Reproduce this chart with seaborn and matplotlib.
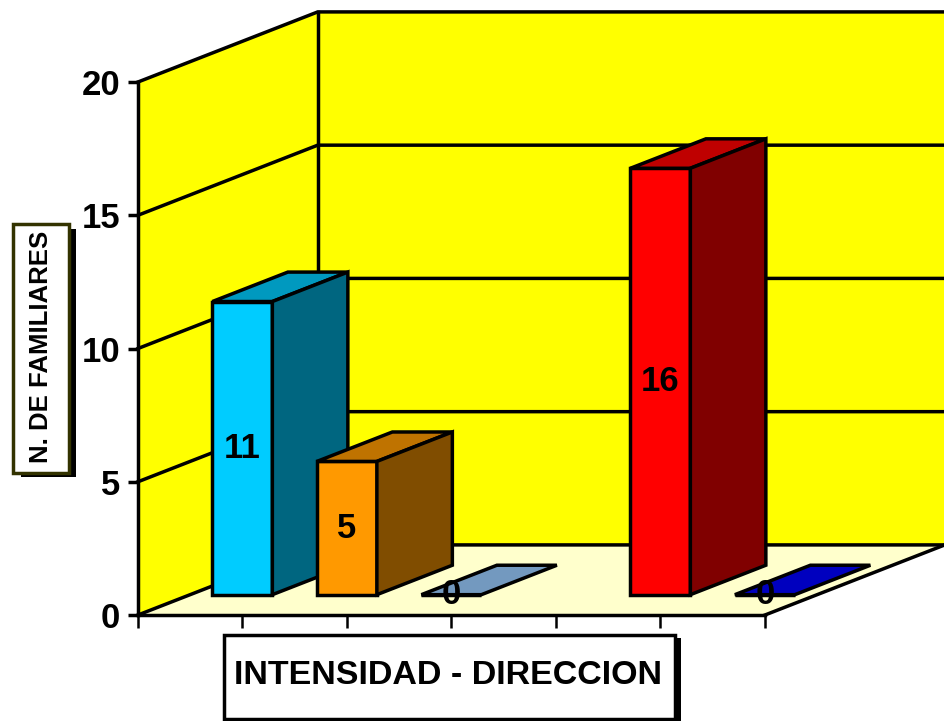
import numpy as np
import pandas as pd
import seaborn as sns
import matplotlib.pyplot as plt
import matplotlib.colors as mcolors
from matplotlib.patches import Polygon, Rectangle

# Chart data (one slot per series, the 4th slot has no bar)
series = ["1", "2", "3", "4", "5", "6"]
values = [11, 5, 0, None, 16, 0]
front_colors = ["#00CCFF", "#FF9900", "#99CCFF", None, "#FF0000", "#0000FF"]
y_ticks = [0, 5, 10, 15, 20]
y_label = "N. DE FAMILIARES"
x_label = "INTENSIDAD - DIRECCION"

# Layout of the fake 3D box
W, H = 945, 721
DX, DY = 1.72, 2.63          # depth of the box, in slots / value units
BAR_FRONT, BAR_DEPTH = 0.29, 0.42
BAR_WIDTH = 0.574
LW = 2.5


def px(x, y):
    return x / W, 1 - y / H


def setup_style():
    sns.set_theme(style="ticks")
    plt.rcParams.update({
        'font.family': ['Liberation Sans', 'DejaVu Sans'],
        'font.weight': 'bold',
        'axes.linewidth': LW,
        'axes.edgecolor': 'black',
        'text.color': 'black',
        'xtick.color': 'black',
        'ytick.color': 'black',
    })


def shade(color, f):
    r, g, b = mcolors.to_rgb(color)
    return (r * f, g * f, b * f)


def draw_box(ax, n, top):
    wall = dict(closed=True, clip_on=False, lw=0, zorder=0.5)
    ax.add_patch(Polygon([(0, 0), (0, top), (DX, top + DY), (DX, DY)], fc="#FFFF00", **wall))
    ax.add_patch(Polygon([(DX, DY), (DX, top + DY), (n + DX, top + DY), (n + DX, DY)], fc="#FFFF00", **wall))
    ax.add_patch(Polygon([(0, 0), (n, 0), (n + DX, DY), (DX, DY)], fc="#FFFFCC", **wall))

    line = dict(color="black", lw=LW, clip_on=False, zorder=1, solid_capstyle="projecting")
    for v in y_ticks:
        ax.plot([0, DX, n + DX], [v, v + DY, v + DY], **line)
    ax.plot([DX, DX], [DY, top + DY], **line)
    ax.plot([n, n + DX], [0, DY], **line)


def main():
    setup_style()
    fig = plt.figure(figsize=(W / 100, H / 100), dpi=100, facecolor="white")
    ax = fig.add_axes([138 / W, 1 - 615 / H, 627 / W, 533 / H])
    ax.set_facecolor("none")

    n = len(series)
    top = y_ticks[-1]
    draw_box(ax, n, top)

    df = pd.DataFrame({"series": series, "value": values, "color": front_colors})
    df["slot"] = np.arange(n)
    df = df.dropna(subset=["value"])
    df["x"] = df["slot"] + 0.5 + BAR_FRONT * DX

    sns.barplot(
        data=df, x="x", y="value", hue="series",
        palette=dict(zip(df["series"], df["color"])), saturation=1,
        native_scale=True, width=BAR_WIDTH, dodge=False, legend=False,
        errorbar=None, bottom=BAR_FRONT * DY,
        edgecolor="black", linewidth=LW, ax=ax,
    )

    bdx, bdy = BAR_DEPTH * DX, BAR_DEPTH * DY
    rects = sorted([p for p in ax.patches if isinstance(p, Rectangle)], key=lambda r: r.get_x())
    for i, r in enumerate(rects):
        x0, b, w, h = r.get_x(), r.get_y(), r.get_width(), r.get_height()
        fc = r.get_facecolor()
        z = 3 + i
        r.set_zorder(z)
        r.set_clip_on(False)
        face = dict(closed=True, ec="black", lw=LW, clip_on=False, zorder=z, joinstyle="miter")
        ax.add_patch(Polygon([(x0, b + h), (x0 + w, b + h), (x0 + w + bdx, b + h + bdy), (x0 + bdx, b + h + bdy)],
                             fc=shade(fc, 0.75), **face))
        if h > 0:
            ax.add_patch(Polygon([(x0 + w, b), (x0 + w, b + h), (x0 + w + bdx, b + h + bdy), (x0 + w + bdx, b + bdy)],
                                 fc=shade(fc, 0.5), **face))
        ax.text(x0 + w / 2, b + h / 2, f"{h:g}", ha="center", va="center",
                fontsize=25, fontweight="bold", color="black", zorder=50)

    ax.set_xlim(0, n)
    ax.set_ylim(0, top)
    ax.set_xticks(np.arange(n + 1))
    ax.set_xticklabels([])
    ax.set_yticks(y_ticks)
    ax.set_xlabel("")
    ax.set_ylabel("")
    ax.tick_params(axis="y", left=True, direction="out", length=7, width=LW, pad=6, labelsize=25)
    ax.tick_params(axis="x", bottom=True, direction="out", length=9, width=1.8)
    for lab in ax.get_yticklabels():
        lab.set_fontweight("bold")
    sns.despine(ax=ax)
    for s in ("left", "bottom"):
        ax.spines[s].set_linewidth(LW)
        ax.spines[s].set_zorder(2)

    # Axis title boxes with drop shadows
    def label_box(x0, y0, x1, y1, edge, sx, sy):
        a, b_ = px(x0 + sx, y1 + sy)
        c, d = px(x1 + sx, y0 + sy)
        fig.add_artist(Rectangle((a, b_), c - a, d - b_, transform=fig.transFigure, fc="black", lw=0))
        a, b_ = px(x0, y1)
        c, d = px(x1, y0)
        fig.add_artist(Rectangle((a, b_), c - a, d - b_, transform=fig.transFigure, fc="white", ec=edge, lw=LW))

    label_box(13.5, 224.5, 68.5, 472.5, "#333300", 7, 4)
    fig.text(*px(41, 347), y_label, rotation=90, ha="center", va="center", fontsize=18.5, fontweight="bold")

    label_box(224.5, 634.5, 674.5, 718.5, "black", 7, 3)
    fig.text(*px(448, 675), x_label, ha="center", va="center", fontsize=24.5, fontweight="bold")

    fig.savefig("out.png", dpi=100, facecolor="white")
    plt.close(fig)


if __name__ == "__main__":
    main()
